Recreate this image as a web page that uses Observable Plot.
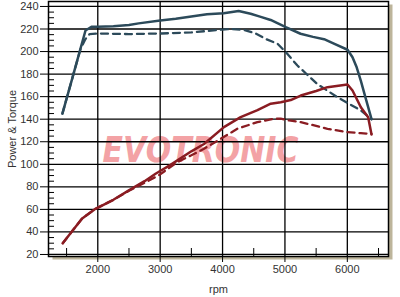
<!DOCTYPE html>
<html>
<head>
<meta charset="utf-8">
<script src="https://cdn.jsdelivr.net/npm/d3@7"></script>
<script src="https://cdn.jsdelivr.net/npm/@observablehq/plot@0.6"></script>
<style>
  html, body { margin: 0; padding: 0; background: #fff; }
  #chart { width: 400px; height: 297px; }
</style>
</head>
<body>
<div id="chart"></div>
<script>
// ---- data ----
const powerRpm    = [1433, 1600, 1803, 1899, 2000, 2250, 2500, 2655, 3000, 3250, 3500, 3750, 4018, 4258, 4450, 4600, 4771, 5013, 5250, 5450, 5627, 5785, 6003, 6083, 6150, 6217, 6297, 6388];
const powerVal    = [145,  178,  218.7, 222, 222,  222.5, 223.5, 225, 227.6, 229,  231,  233,  234,  236,  233.5, 231,  228,  221.6, 215.8, 213, 211,  207,  201.6, 195,  186,  174,  158,  140];
const powerRefRpm = [1433, 1600, 1722, 1800, 1870, 2000, 2500, 3000, 3500, 4000, 4130, 4340, 4530, 4700, 4880, 5013, 5200, 5522, 5843, 6217, 6388];
const powerRefVal = [145,  178,  202,  211,  215.5, 216, 215.5, 216, 217,  219.5, 220, 219.3, 216, 211,  207,  199.5, 187.6, 171, 159.5, 147.7, 140];
const torqueRpm    = [1438, 1600, 1750, 1963, 2250, 2498, 2750, 2926, 3166, 3500, 3703, 4022, 4290, 4560, 4772, 4933, 5093, 5254, 5500, 5682, 6003, 6083, 6217, 6334, 6388];
const torqueVal    = [30,   41.4, 52,   60.5, 68.5, 76.8, 85,   91.6, 99.5, 111.5, 118, 133,  141.8, 148, 153.7, 155,  157,  161,  165,  168.4, 170.8, 165.5, 150.6, 141.8, 126.4];
const torqueRefRpm = [1438, 1750, 1963, 2250, 2500, 2819, 3000, 3274, 3500, 3703, 3970, 4237, 4558, 4825, 4933, 5066, 5254, 5682, 6003, 6217, 6388];
const torqueRefVal = [30,   52,   60.5, 68.5, 76.5, 85.6, 91,   101.9, 108, 113.8, 122.6, 131.5, 137.4, 140.4, 140.4, 138.9, 137.4, 131.5, 128.5, 127.6, 127];
const yTicks  = [20, 40, 60, 80, 100, 120, 140, 160, 180, 200, 220, 240];
const xTicks  = [2000, 3000, 4000, 5000, 6000];
const yMinor  = [25, 30, 35, 45, 50, 55, 65, 70, 75, 85, 90, 95, 105, 110, 115, 125, 130, 135, 145, 150, 155, 165, 170, 175, 185, 190, 195, 205, 210, 215, 225, 230, 235];
const xMinor  = [1500, 2500, 3500, 4500, 5500, 6500];
const watermark = ["EVOTRONIC"];

const toRows = (xs, ys) => xs.map((x, i) => ({rpm: x, v: ys[i]}));
const powerColor = "#2c4a5a";
const torqueColor = "#8a1c22";

const chart = Plot.plot({
  width: 400,
  height: 297,
  marginLeft: 48,
  marginRight: 12,
  marginTop: 1,
  marginBottom: 41,
  style: {fontFamily: "'Liberation Sans', Arial, sans-serif", fontSize: "11px", color: "#333", background: "white", overflow: "visible"},
  x: {domain: [1210, 6660]},
  y: {domain: [18.2, 244.4]},
  marks: [
    Plot.frame({fill: "#bdb59b", dx: 4, dy: 3}),
    Plot.frame({fill: "white"}),
    Plot.text(watermark, {frameAnchor: "middle", dx: -18, dy: 21, text: d => d, fill: "#f3a2a5",
      fontSize: 36, fontWeight: "bold", fontStyle: "italic", fontFamily: "'DejaVu Sans', sans-serif"}),
    Plot.gridY(yTicks, {stroke: "black", strokeOpacity: 1, strokeWidth: 1.3}),
    Plot.gridX(xTicks, {stroke: "black", strokeOpacity: 1, strokeWidth: 1.3}),
    Plot.tickY(yMinor, {stroke: "black", insetRight: 334}),
    Plot.tickX(xMinor, {stroke: "black", insetTop: 247}),
    Plot.line(toRows(torqueRefRpm, torqueRefVal), {x: "rpm", y: "v", stroke: torqueColor, strokeWidth: 2.3, strokeDasharray: "7,5"}),
    Plot.line(toRows(powerRefRpm, powerRefVal), {x: "rpm", y: "v", stroke: powerColor, strokeWidth: 2.3, strokeDasharray: "7,5"}),
    Plot.line(toRows(torqueRpm, torqueVal), {x: "rpm", y: "v", stroke: torqueColor, strokeWidth: 2.5}),
    Plot.line(toRows(powerRpm, powerVal), {x: "rpm", y: "v", stroke: powerColor, strokeWidth: 2.5}),
    Plot.frame({stroke: "black", strokeWidth: 1.5}),
    Plot.axisY(yTicks, {tickSize: 8, tickPadding: 2, stroke: "black", fill: "#333", tickFormat: d => String(d), label: "Power & Torque", labelAnchor: "center", labelArrow: "none", labelOffset: 40}),
    Plot.axisX(xTicks, {tickSize: 6, tickPadding: 3, stroke: "black", fill: "#333", tickFormat: d => String(d), label: "rpm", labelAnchor: "center", labelArrow: "none", labelOffset: 36})
  ]
});
document.getElementById("chart").appendChild(chart);
// stretch the watermark text to its width in the reference
chart.querySelectorAll("text").forEach(t => {
  if (t.textContent === "EVOTRONIC") {
    t.setAttribute("textLength", 196);
    t.setAttribute("lengthAdjust", "spacingAndGlyphs");
  }
});
</script>
</body>
</html>
